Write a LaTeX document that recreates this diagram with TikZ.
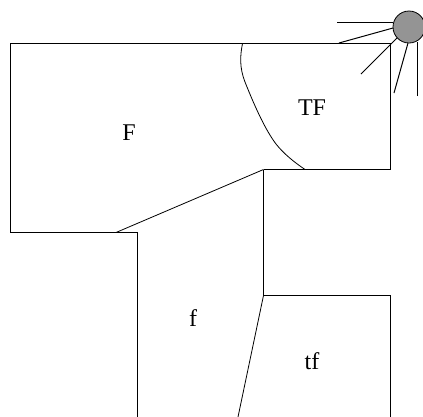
\documentclass[tikz,border=0pt]{standalone}
\usepackage{fontspec}
\setmainfont{Liberation Serif}
\tikzset{
  wall/.style={black,line width=1pt},
  ray/.style={black,line width=1pt},
  regionlabel/.style={font=\fontsize{24}{24}\selectfont,inner sep=0pt}
}

\begin{document}
\begin{tikzpicture}[x=1pt,y=-1pt]
  \clip (0,0) rectangle (423,416);
  % Upper room
  \draw[wall] (116,232.5)--(10.5,232.5)--(10.5,43.5)--(390.5,43.5)--(390.5,169.5)--(263.5,169.5);
  % Lower rooms
  \draw[wall] (116,232.5)--(137.5,232.5)--(137.5,417);
  \draw[wall] (263.5,169.5)--(263.5,295.5)--(390.5,295.5)--(390.5,417);
  % Shadow boundaries
  \draw[wall,line width=0.8pt] (116,232.5)--(263.5,169.5);
  \draw[wall,line width=0.8pt] (263.5,295.5)--(238,417);
  \draw[wall,line width=0.8pt] (242.5,43.5) .. controls (240,56) and (239.5,68) .. (245,82)
    .. controls (253,102) and (264,128) .. (276,144)
    .. controls (284,154) and (294,162) .. (305,169.5);
  % Sun
  \draw[black,line width=0.8pt,fill=black!42] (409,27) circle (16);
  \draw[ray] (337,22)--(393,22);
  \draw[ray] (339,43)--(393,28);
  \draw[ray] (361,74)--(397,38);
  \draw[ray] (394,93)--(408,43);
  \draw[ray] (417,96)--(417,42);
  % Region labels
  \node[regionlabel] (F) at (129,133) {F};
  \node[regionlabel] (TF) at (312,108) {TF};
  \node[regionlabel] (f) at (193,318) {f};
  \node[regionlabel] (tf) at (312,361) {tf};
\end{tikzpicture}
\end{document}
